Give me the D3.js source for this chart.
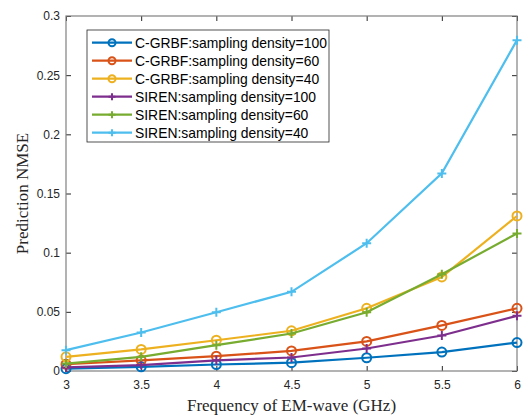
<!DOCTYPE html>
<html>
<head>
<meta charset="utf-8">
<script src="https://cdn.jsdelivr.net/npm/d3@7"></script>
<style>
  body { margin: 0; background: #fff; }
  .tick text { font-family: "Liberation Sans", Arial, sans-serif; font-size: 12px; fill: #262626; }
</style>
</head>
<body>
<div id="chart"></div>
<script>
// frequencies (GHz)
const freqs = [3, 3.5, 4, 4.5, 5, 5.5, 6];

// NMSE values
const grbf100 = [0.002, 0.0035, 0.0055, 0.007, 0.0112, 0.016, 0.024];
const grbf60 = [0.0057, 0.009, 0.0125, 0.017, 0.025, 0.0385, 0.053];
const grbf40 = [0.012, 0.0182, 0.026, 0.034, 0.053, 0.0795, 0.131];
const siren100 = [0.003, 0.005, 0.009, 0.0114, 0.019, 0.030, 0.0466];
const siren60 = [0.0063, 0.012, 0.0218, 0.0317, 0.0497, 0.0818, 0.1162];
const siren40 = [0.0176, 0.0325, 0.0497, 0.0669, 0.108, 0.167, 0.2796];

const xTicks = [3, 3.5, 4, 4.5, 5, 5.5, 6];
const yTicks = [0, 0.05, 0.1, 0.15, 0.2, 0.25, 0.3];

const series = [
  { name: "C-GRBF:sampling density=100", values: grbf100, color: "#0072BD", marker: "circle" },
  { name: "C-GRBF:sampling density=60", values: grbf60, color: "#D95319", marker: "circle" },
  { name: "C-GRBF:sampling density=40", values: grbf40, color: "#EDB120", marker: "circle" },
  { name: "SIREN:sampling density=100", values: siren100, color: "#7E2F8E", marker: "plus" },
  { name: "SIREN:sampling density=60", values: siren60, color: "#77AC30", marker: "plus" },
  { name: "SIREN:sampling density=40", values: siren40, color: "#4DBEEE", marker: "plus" }
];

const svgWidth = 532;
const svgHeight = 417;
const margin = { top: 16, right: 15, bottom: 46, left: 66 };
const width = svgWidth - margin.left - margin.right;
const height = svgHeight - margin.top - margin.bottom;

const svg = d3.select("#chart")
  .append("svg")
  .attr("width", svgWidth)
  .attr("height", svgHeight);

const chart = svg.append("g")
  .attr("transform", `translate(${margin.left},${margin.top})`);

const x = d3.scaleLinear().domain([3, 6]).range([0, width]);
const y = d3.scaleLinear().domain([0, 0.3]).range([height, 0]);

const axisColor = "#808080";

// axes (ticks point inside, box on)
chart.append("g")
  .attr("transform", `translate(0,${height})`)
  .call(d3.axisBottom(x).tickValues(xTicks).tickFormat(d3.format("")).tickSizeInner(-5).tickSizeOuter(0).tickPadding(9))
  .call(g => g.select(".domain").remove())
  .call(g => g.selectAll(".tick line").attr("stroke", "#262626"));

chart.append("g")
  .call(d3.axisLeft(y).tickValues(yTicks).tickFormat(d3.format("")).tickSizeInner(-5).tickSizeOuter(0).tickPadding(6))
  .call(g => g.select(".domain").remove())
  .call(g => g.selectAll(".tick line").attr("stroke", "#262626"));

chart.append("g")
  .call(d3.axisTop(x).tickValues(xTicks).tickFormat("").tickSizeInner(-5).tickSizeOuter(0))
  .call(g => g.select(".domain").remove())
  .call(g => g.selectAll(".tick line").attr("stroke", "#262626"));

chart.append("g")
  .attr("transform", `translate(${width},0)`)
  .call(d3.axisRight(y).tickValues(yTicks).tickFormat("").tickSizeInner(-5).tickSizeOuter(0))
  .call(g => g.select(".domain").remove())
  .call(g => g.selectAll(".tick line").attr("stroke", "#262626"));

chart.append("rect")
  .attr("x", 0).attr("y", 0)
  .attr("width", width).attr("height", height)
  .attr("fill", "none")
  .attr("stroke", axisColor)
  .attr("stroke-width", 1.2);

// lines
const line = d3.line()
  .x((d, i) => x(freqs[i]))
  .y(d => y(d));

function drawMarker(g, type, color, cx, cy, r) {
  if (type === "circle") {
    g.append("circle")
      .attr("cx", cx).attr("cy", cy).attr("r", r)
      .attr("fill", "none").attr("stroke", color).attr("stroke-width", 2);
  } else {
    g.append("path")
      .attr("d", `M${cx - r},${cy}H${cx + r}M${cx},${cy - r}V${cy + r}`)
      .attr("stroke", color).attr("stroke-width", 2);
  }
}

series.forEach(s => {
  chart.append("path")
    .datum(s.values)
    .attr("fill", "none")
    .attr("stroke", s.color)
    .attr("stroke-width", 2.2)
    .attr("d", line);
  const mg = chart.append("g");
  s.values.forEach((v, i) => drawMarker(mg, s.marker, s.color, x(freqs[i]), y(v), 4.5));
});

// legend
const legend = svg.append("g").attr("transform", "translate(87,30)");
legend.append("rect")
  .attr("width", 242).attr("height", 112)
  .attr("fill", "#fff").attr("stroke", "#262626").attr("stroke-width", 0.8);

series.forEach((s, i) => {
  const ly = 12.7 + i * 18;
  legend.append("line")
    .attr("x1", 5).attr("x2", 45).attr("y1", ly).attr("y2", ly)
    .attr("stroke", s.color).attr("stroke-width", 2.2);
  drawMarker(legend, s.marker, s.color, 25, ly, 3.5);
  legend.append("text")
    .attr("x", 48).attr("y", ly)
    .attr("dy", "0.35em")
    .attr("font-family", "'Liberation Sans', Arial, sans-serif")
    .attr("font-size", 13.9)
    .attr("fill", "#000")
    .text(s.name);
});

// axis labels
svg.append("text")
  .attr("x", margin.left + width / 2)
  .attr("y", 411)
  .attr("text-anchor", "middle")
  .attr("font-family", "'Liberation Serif', 'Times New Roman', serif")
  .attr("font-size", 17)
  .attr("fill", "#262626")
  .text("Frequency of EM-wave (GHz)");

svg.append("text")
  .attr("transform", `translate(28,${margin.top + height / 2}) rotate(-90)`)
  .attr("text-anchor", "middle")
  .attr("font-family", "'Liberation Serif', 'Times New Roman', serif")
  .attr("font-size", 17)
  .attr("fill", "#262626")
  .text("Prediction NMSE");
</script>
</body>
</html>
